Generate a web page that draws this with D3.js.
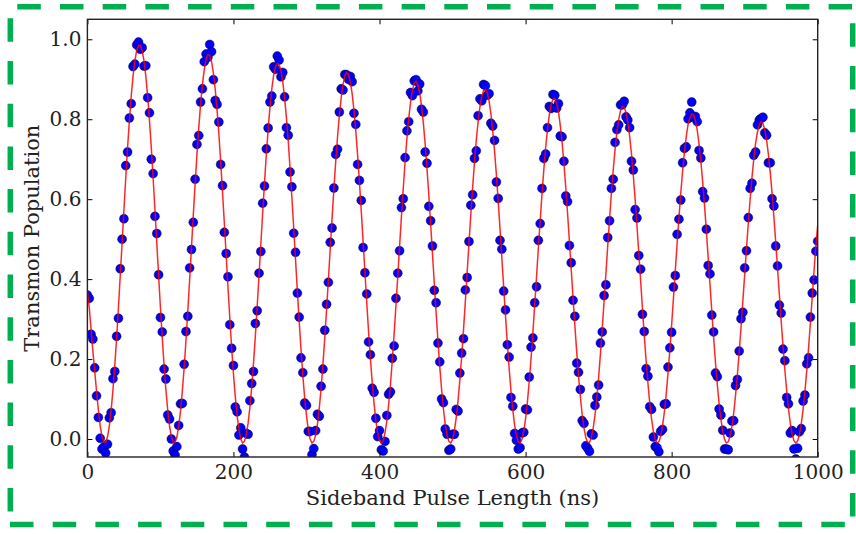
<!DOCTYPE html>
<html>
<head>
<meta charset="utf-8">
<script src="https://cdnjs.cloudflare.com/ajax/libs/d3/7.8.5/d3.min.js"></script>
<style>
  body { margin: 0; background: #fff; }
  svg { display: block; font-family: 'DejaVu Serif', serif; }
</style>
</head>
<body>
<svg id="chart" width="856" height="534"></svg>
<script>
// tick labels
const xTicks = [0, 200, 400, 600, 800, 1000]
const yTicks = [0, 0.2, 0.4, 0.6, 0.8, 1.0]

// pulse lengths are sampled every 2.5 ns, 0 .. 1000
const sampleStep = 2.5

const population = [
  .360, .352, .262, .250, .178, .108, .054, .002, -.025, -.020,
  -.035, -.013, .053, .066, .151, .169, .257, .302, .426, .500, .551, .684, .718, .803, .839, .932, .938, .986, .993,
  .975, .979, .933, .934, .854, .816, .700, .664, .557, .514, .411, .304, .268, .175, .150, .060, .050, .000, -.030,
  -.040, -.019, .034, .088, .089, .187, .269, .307, .428, .474, .542, .650, .737, .759, .843, .876, .944, .963, .955,
  .987, .969, .899, .847, .837, .793, .687, .634, .517, .464, .406, .286, .227, .184, .080, .068, .010, .028, -.025,
  -.045, .014, .012, .096, .139, .169, .289, .321, .415, .469, .590, .633, .726, .778, .843, .858, .931, .925, .958,
  .948, .906, .917, .856, .779, .760, .668, .631, .515, .467, .365, .305, .203, .166, .090, .084, .019, .019, -.039,
  -.024, .021, .062, .057, .132, .175, .272, .337, .392, .492, .528, .628, .712, .725, .818, .876, .873, .912, .911,
  .900, .907, .894, .815, .787, .687, .647, .597, .479, .416, .363, .243, .211, .127, .117, .052, .006, .021, -.027,
  -.030, -.006, .059, .112, .118, .202, .233, .352, .415, .471, .579, .601, .704, .771, .794, .867, .859, .896,
  .899, .871, .888, .825, .818, .718, .690, .582, .546, .483, .372, .341, .240, .193, .100, .091, .025, .012, -.028,
  -.025, .012, .012, .074, .070, .165, .215, .251, .373, .404, .494, .585, .611, .702, .721, .809, .851, .846, .887,
  .884, .860, .864, .790, .783, .747, .643, .602, .497, .475, .370, .323, .236, .205, .104, .082, .014, -.003, -.025,
  -.022, .015, .017, .075, .073, .155, .230, .253, .341, .381, .497, .539, .627, .702, .713, .779, .832, .827, .862,
  .860, .828, .839, .758, .756, .695, .608, .594, .484, .441, .347, .307, .190, .167, .124, .046, .039, -.017, -.023,
  -.031, .013, .010, .084, .105, .135, .240, .268, .359, .386, .504, .546, .627, .650, .742, .774, .786, .836, .836,
  .845, .806, .798, .779, .695, .673, .574, .553, .459, .425, .312, .269, .176, .157, .081, .074, .005, -.019, -.022,
  -.032, .019, .024, .087, .088, .180, .228, .267, .380, .409, .512, .550, .598, .691, .727, .731, .801, .816, .843,
  .805, .807, .794, .722, .703, .619, .603, .525, .434, .413, .310, .268, .165, .156, .075, .060, .022, -.025, -.025,
  -.027, .015, .045, .046, .134, .149, .220, .301, .317, .428, .471, .554, .627, .640, .710, .718, .786, .798, .802,
  .805, .766, .760, .691, .691, .601, .583, .483, .433, .335, .315, .225, .196, .104, .088, .015, .021, -.025, -.050,
  -.023, .018, .026, .095, .110, .188, .203, .305, .365, .398, .470, .495
]

// red fit curve, same pulse lengths
const fitCurve = [
  .370, .330, .275, .220, .170, .120, .073, .033, .006, -.008,
  -.008, .005, .032, .072, .123, .184, .253, .329, .409, .491, .573, .653, .729, .797, .858, .908, .946, .972, .985,
  .985, .972, .946, .908, .858, .797, .729, .653, .573, .491, .409, .329, .253, .184, .123, .072, .032, .005, -.008,
  -.008, .005, .031, .070, .120, .179, .247, .321, .399, .480, .560, .638, .712, .779, .838, .887, .924, .950, .962,
  .960, .944, .916, .875, .824, .763, .694, .618, .540, .460, .379, .302, .229, .163, .106, .059, .024, .000, -.010,
  -.006, .010, .039, .079, .130, .191, .258, .332, .409, .488, .566, .641, .712, .775, .831, .876, .910, .931, .940,
  .937, .922, .894, .854, .804, .745, .677, .604, .527, .449, .370, .295, .224, .159, .103, .058, .023, .000, -.010,
  -.006, .009, .037, .077, .127, .186, .252, .324, .399, .476, .552, .625, .694, .756, .810, .854, .887, .908, .917,
  .912, .894, .864, .822, .771, .710, .643, .570, .495, .418, .342, .269, .202, .141, .089, .046, .015, -.004, -.010,
  -.004, .015, .045, .086, .137, .197, .263, .334, .408, .483, .557, .627, .693, .752, .802, .843, .872, .890,
  .895, .886, .866, .834, .791, .738, .677, .610, .538, .464, .389, .316, .246, .181, .124, .075, .036, .009, -.006,
  -.010, -.001, .021, .053, .096, .148, .207, .273, .344, .417, .490, .561, .629, .692, .748, .794, .831, .857, .871,
  .874, .866, .846, .814, .772, .721, .662, .595, .526, .453, .380, .308, .240, .177, .120, .073, .035, .009, -.007,
  -.010, -.001, .020, .051, .093, .144, .202, .267, .335, .406, .478, .547, .614, .675, .730, .775, .811, .837, .850,
  .852, .841, .819, .785, .742, .690, .630, .564, .495, .424, .353, .284, .218, .158, .105, .061, .027, .003, -.009,
  -.009, .003, .026, .059, .102, .154, .213, .277, .345, .414, .484, .551, .615, .673, .724, .767, .799, .821, .832,
  .830, .817, .792, .757, .713, .660, .600, .534, .466, .397, .327, .260, .197, .140, .091, .050, .019, -.001, -.010,
  -.007, .007, .032, .067, .111, .164, .222, .286, .353, .421, .489, .554, .615, .670, .718, .757, .787, .805, .813,
  .811, .797, .773, .739, .695, .644, .585, .522, .455, .387, .319, .254, .192, .137, .088, .049, .018, -.001, -.010,
  -.007, .007, .031, .065, .109, .160, .217, .279, .345, .411, .477, .541, .601, .655, .701, .740, .768, .786, .794,
  .789, .774, .748, .712, .667, .615, .556, .493, .428, .361, .296, .232, .174, .121, .075, .039, .012, -.004, -.010,
  -.005, .012, .038, .074, .119, .171, .228, .291, .355, .421, .485, .535
]

const pulseLength = population.map((_, i) => i * sampleStep)

const svg = d3.select('#chart')
const plot = { left: 87.4, right: 817.7, top: 19.3, bottom: 457 }

const xScale = d3.scaleLinear()
  .domain([0, 1000])
  .range([plot.left, plot.right])

const yScale = d3.scaleLinear()
  .domain([-0.045, 1.05])
  .range([plot.bottom, plot.top])

svg.append('rect')
  .attr('width', 856)
  .attr('height', 534)
  .attr('fill', '#fff')

// green dashed frame round the figure
const frameSides = [
  { x1: 10, y1: 6.8, x2: 852.7, y2: 6.8, off: 35.4 },
  { x1: 10.3, y1: 7, x2: 10.3, y2: 524.5, off: 31.4 },
  { x1: 852.7, y1: 7, x2: 852.7, y2: 524.5, off: 26.4 },
  { x1: 10, y1: 524.5, x2: 852.7, y2: 524.5, off: 0 }
]
svg.selectAll('.frame')
  .data(frameSides)
  .enter().append('line')
  .attr('class', 'frame')
  .attr('x1', d => d.x1).attr('y1', d => d.y1)
  .attr('x2', d => d.x2).attr('y2', d => d.y2)
  .attr('stroke', '#00b050')
  .attr('stroke-width', 5.5)
  .attr('stroke-dasharray', '23.5 19.2')
  .attr('stroke-dashoffset', d => d.off)

svg.append('clipPath')
  .attr('id', 'plotClip')
  .append('rect')
  .attr('x', plot.left)
  .attr('y', plot.top)
  .attr('width', plot.right - plot.left)
  .attr('height', plot.bottom - plot.top)

const marks = svg.append('g').attr('clip-path', 'url(#plotClip)')

marks.selectAll('circle')
  .data(population)
  .enter().append('circle')
  .attr('cx', (d, i) => xScale(pulseLength[i]))
  .attr('cy', d => yScale(d))
  .attr('r', 4.5)
  .attr('fill', '#0000ff')
  .attr('stroke', '#000')
  .attr('stroke-width', 0.6)
  .attr('stroke-opacity', 0.7)

const fitLine = d3.line()
  .x((d, i) => xScale(pulseLength[i]))
  .y(d => yScale(d))

marks.append('path')
  .datum(fitCurve)
  .attr('d', fitLine)
  .attr('fill', 'none')
  .attr('stroke', '#ff0000')
  .attr('stroke-width', 1.5)
  .attr('stroke-opacity', 0.85)

const styleAxis = (g) => {
  g.select('.domain').remove()
  g.selectAll('.tick line').attr('stroke', '#000').attr('stroke-width', 1)
  g.selectAll('.tick text')
    .style('font-family', "'DejaVu Serif', serif")
    .style('font-size', '20px')
    .style('fill', '#222')
}

svg.append('g')
  .attr('transform', `translate(0,${plot.bottom})`)
  .call(d3.axisBottom(xScale).tickValues(xTicks).tickSize(-5).tickPadding(8).tickFormat(d3.format('d')))
  .call(styleAxis)

svg.append('g')
  .attr('transform', `translate(${plot.left},0)`)
  .call(d3.axisLeft(yScale).tickValues(yTicks).tickSize(-5).tickPadding(6).tickFormat(d3.format('.1f')))
  .call(styleAxis)

svg.append('g')
  .attr('transform', `translate(0,${plot.top})`)
  .call(d3.axisTop(xScale).tickValues(xTicks).tickSize(-5).tickFormat(''))
  .call(styleAxis)

svg.append('g')
  .attr('transform', `translate(${plot.right},0)`)
  .call(d3.axisRight(yScale).tickValues(yTicks).tickSize(-5).tickFormat(''))
  .call(styleAxis)

svg.append('rect')
  .attr('x', plot.left)
  .attr('y', plot.top)
  .attr('width', plot.right - plot.left)
  .attr('height', plot.bottom - plot.top)
  .attr('fill', 'none')
  .attr('stroke', '#222')
  .attr('stroke-width', 1.4)

svg.append('text')
  .attr('x', (plot.left + plot.right) / 2)
  .attr('y', 505)
  .attr('text-anchor', 'middle')
  .style('font-size', '21px')
  .style('fill', '#222')
  .text('Sideband Pulse Length (ns)')

svg.append('text')
  .attr('transform', `translate(39,${(plot.top + plot.bottom) / 2}) rotate(-90)`)
  .attr('text-anchor', 'middle')
  .style('font-size', '21px')
  .style('fill', '#222')
  .text('Transmon Population')
</script>
</body>
</html>
